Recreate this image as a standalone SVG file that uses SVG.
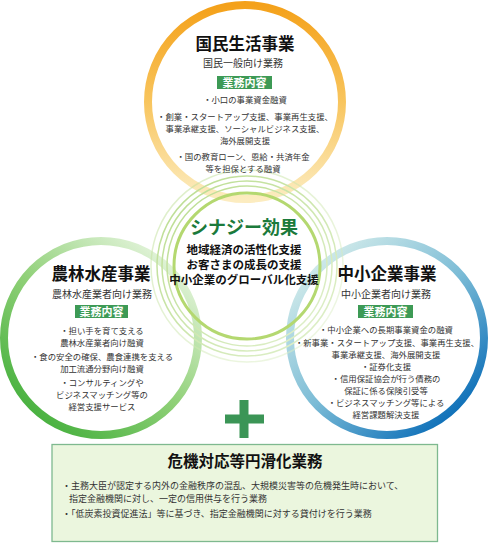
<svg xmlns="http://www.w3.org/2000/svg" width="489" height="551" viewBox="0 0 489 551">
<defs>
<linearGradient id="gTop" x1="0" y1="0" x2="0" y2="1">
<stop offset="0" stop-color="#f4a11a"/>
<stop offset="0.5" stop-color="#f8c55e"/>
<stop offset="1" stop-color="#fcecc0"/>
</linearGradient>
<linearGradient id="gLeft" x1="0.1" y1="0.95" x2="0.85" y2="0.05">
<stop offset="0" stop-color="#3fad38"/>
<stop offset="0.5" stop-color="#8fd077"/>
<stop offset="1" stop-color="#e6f5de"/>
</linearGradient>
<linearGradient id="gRight" x1="0.1" y1="0.05" x2="0.9" y2="0.95">
<stop offset="0" stop-color="#d9efec"/>
<stop offset="0.5" stop-color="#7cbcd6"/>
<stop offset="1" stop-color="#0066b5"/>
</linearGradient>
<linearGradient id="gSyn" x1="0" y1="0" x2="1" y2="1">
<stop offset="0" stop-color="#b9dc8e"/>
<stop offset="1" stop-color="#e2f1cf"/>
</linearGradient>
</defs>
<style>
text{font-family:"Noto Sans CJK JP","Noto Sans CJK SC",sans-serif;text-anchor:middle}
.t{font-size:16.5px;font-weight:bold;fill:#111}
.s{font-size:10px;fill:#333}
.b{font-size:8.4px;fill:#333}
.bx{fill:#3d9a55}
.bt{font-size:11px;font-weight:bold;fill:#fff}
.syn{font-size:11.5px;font-weight:bold;fill:#111}
.ring{fill:none;stroke-width:8}
.sr{fill:none;stroke:url(#gSyn);stroke-width:1.5}
.bl{font-size:9px;fill:#333;text-anchor:start}
</style>

<g id="ring-top"><circle class="ring" cx="245" cy="102" r="97" stroke="url(#gTop)"/></g>
<g id="ring-left"><circle class="ring" cx="101" cy="338" r="97" stroke="url(#gLeft)"/></g>
<g id="ring-right"><circle class="ring" cx="387" cy="338" r="97" stroke="url(#gRight)"/></g>

<g id="synergy">
<circle class="sr" cx="247" cy="266" r="96" opacity="0.5"/>
<circle class="sr" cx="247" cy="266" r="90"/>
<circle class="sr" cx="247" cy="266" r="85"/>
<circle class="sr" cx="247" cy="266" r="80"/>
<circle cx="247" cy="266" r="73" fill="none" stroke="#b4d870" stroke-width="3"/>
<text x="244" y="234" style="font-size:18px;font-weight:bold;fill:#1b7a3b">シナジー効果</text>
<text class="syn" x="244" y="254">地域経済の活性化支援</text>
<text class="syn" x="244" y="269">お客さまの成長の支援</text>
<text class="syn" x="244" y="284">中小企業のグローバル化支援</text>
</g>

<g id="kokumin">
<text class="t" x="245" y="50">国民生活事業</text>
<text class="s" x="243" y="67">国民一般向け業務</text>
<rect class="bx" x="217" y="76" width="55" height="13"/>
<text class="bt" x="244.5" y="86.5">業務内容</text>
<text class="b" x="245" y="103">・小口の事業資金融資</text>
<text class="b" x="245" y="120">・創業・スタートアップ支援、事業再生支援、</text>
<text class="b" x="245" y="132">事業承継支援、ソーシャルビジネス支援、</text>
<text class="b" x="245" y="144">海外展開支援</text>
<text class="b" x="243" y="160">・国の教育ローン、恩給・共済年金</text>
<text class="b" x="243" y="172">等を担保とする融資</text>
</g>

<g id="norin">
<text class="t" x="101" y="280">農林水産事業</text>
<text class="s" x="102" y="297.5">農林水産業者向け業務</text>
<rect class="bx" x="75" y="305" width="53" height="13"/>
<text class="bt" x="101.5" y="315.5">業務内容</text>
<text class="b" x="102" y="334">・担い手を育て支える</text>
<text class="b" x="102" y="346">農林水産業者向け融資</text>
<text class="b" x="102" y="360">・食の安全の確保、農食連携を支える</text>
<text class="b" x="102" y="372">加工流通分野向け融資</text>
<text class="b" x="102" y="386">・コンサルティングや</text>
<text class="b" x="102" y="398">ビジネスマッチング等の</text>
<text class="b" x="102" y="410">経営支援サービス</text>
</g>

<g id="chusho">
<text class="t" x="387" y="280">中小企業事業</text>
<text class="s" x="386" y="297.5">中小企業者向け業務</text>
<rect class="bx" x="358" y="305" width="55" height="13"/>
<text class="bt" x="385.5" y="315.5">業務内容</text>
<text class="b" x="386" y="333">・中小企業への長期事業資金の融資</text>
<text class="b" x="387" y="345.5">・新事業・スタートアップ支援、事業再生支援、</text>
<text class="b" x="386" y="357.5">事業承継支援、海外展開支援</text>
<text class="b" x="386" y="369.5">・証券化支援</text>
<text class="b" x="386" y="381.5">・信用保証協会が行う債務の</text>
<text class="b" x="386" y="393.5">保証に係る保険引受等</text>
<text class="b" x="386" y="405.5">・ビジネスマッチング等による</text>
<text class="b" x="386" y="417.5">経営課題解決支援</text>
</g>

<g id="plus" fill="#3b9556">
<rect x="239.5" y="400" width="9" height="38"/>
<rect x="225" y="414.5" width="39" height="9"/>
</g>

<g id="kiki">
<rect x="52" y="444.5" width="385.5" height="97" fill="#ebf6de" stroke="#7eb98f" stroke-width="1.3"/>
<text x="245" y="467" style="font-size:15.5px;font-weight:bold;fill:#111">危機対応等円滑化業務</text>
<text class="bl" x="62" y="489">・主務大臣が認定する内外の金融秩序の混乱、大規模災害等の危機発生時において、</text>
<text class="bl" x="69" y="502">指定金融機関に対し、一定の信用供与を行う業務</text>
<text class="bl" x="62" y="517">・「低炭素投資促進法」等に基づき、指定金融機関に対する貸付けを行う業務</text>
</g>
</svg>
